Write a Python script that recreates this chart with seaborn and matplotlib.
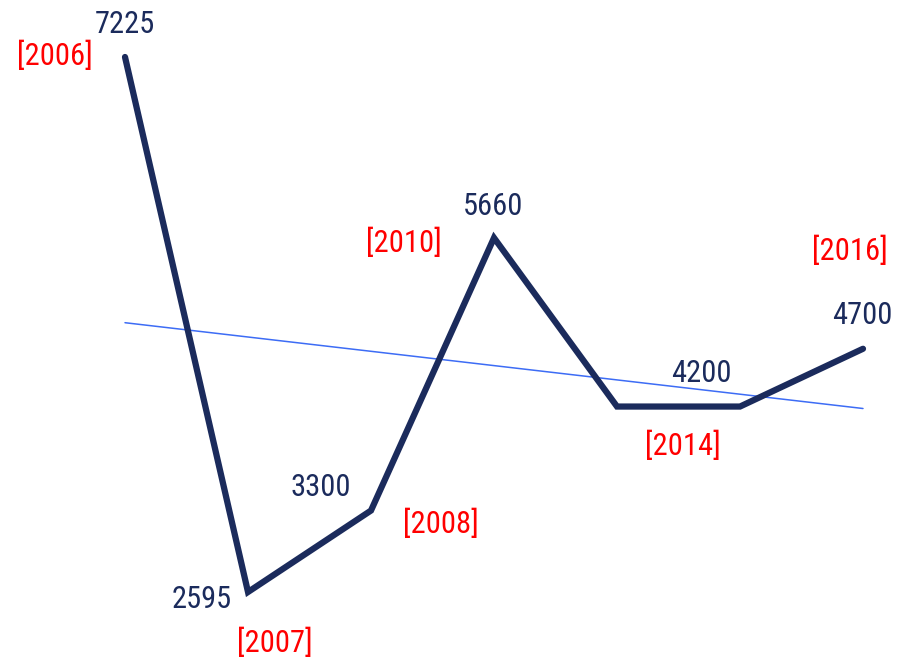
import matplotlib
matplotlib.use("Agg")
import matplotlib.pyplot as plt
from matplotlib import font_manager
import numpy as np
import pandas as pd
import seaborn as sns

# ---- data ----
years = ["2006", "2007", "2008", "2010", "2012", "2014", "2016"]
values = [7225, 2595, 3300, 5660, 4200, 4200, 4700]
show_value = [True, True, True, True, False, True, True]
show_year = [True, True, True, True, False, True, True]
# label offsets in pixels (dx, dy of baseline) relative to each point
value_offsets = [(0, 24), (-46, -16), (-50, 15), (-1, 23), (0, 24), (-39, 25), (-1, 25)]
year_offsets = [(-70, -8), (27, -60), (70, -22), (-90, -14), (0, -40), (-57, -48), (-13, 89)]

sns.set_theme(style="white")

available = {f.name for f in font_manager.fontManager.ttflist}
fam = "Liberation Sans"
for cand in ["Liberation Sans Narrow", "Arial Narrow", "Arimo Narrow", "Roboto Condensed",
             "PT Sans Narrow", "Archivo Narrow", "Open Sans Condensed", "Barlow Semi Condensed",
             "Liberation Sans"]:
    if cand in available:
        fam = cand
        break
plt.rcParams["font.family"] = [fam, "DejaVu Sans"]

navy = "#1b2b5c"
red = "#ff0000"
blue = "#3d6cf5"

df = pd.DataFrame({"idx": np.arange(len(values)), "year": years, "value": values})

fig = plt.figure(figsize=(9.08, 6.64), dpi=100)
ax = fig.add_axes([0, 0, 1, 1])

# trend line (linear regression)
sns.regplot(data=df, x="idx", y="value", ax=ax, scatter=False, ci=None,
            truncate=True, line_kws=dict(color=blue, lw=1.1))

sns.lineplot(data=df, x="idx", y="value", ax=ax, color=navy, lw=4.5,
             solid_capstyle="round", solid_joinstyle="miter", sort=False)

fs = 22
for i, (v, y) in enumerate(zip(values, years)):
    if show_value[i]:
        ax.annotate(str(v), (i, v), xytext=value_offsets[i], textcoords="offset pixels",
                    ha="center", va="baseline", fontsize=fs, color=navy)
    if show_year[i]:
        ax.annotate(f"[{y}]", (i, v), xytext=year_offsets[i], textcoords="offset pixels",
                    ha="center", va="baseline", fontsize=fs, color=red)

# map: idx 0 -> px 125, idx 6 -> px 863 ; value 2595 -> py 592, 7225 -> py 57
pxu = (863 - 125) / 6.0
ax.set_xlim(-125 / pxu, 6 + (908 - 863) / pxu)
pyu = (592 - 57) / (7225 - 2595)
ax.set_ylim(2595 - (664 - 592) / pyu, 2595 + 592 / pyu)
ax.axis("off")

fig.savefig("out.png", dpi=100, facecolor="white")
